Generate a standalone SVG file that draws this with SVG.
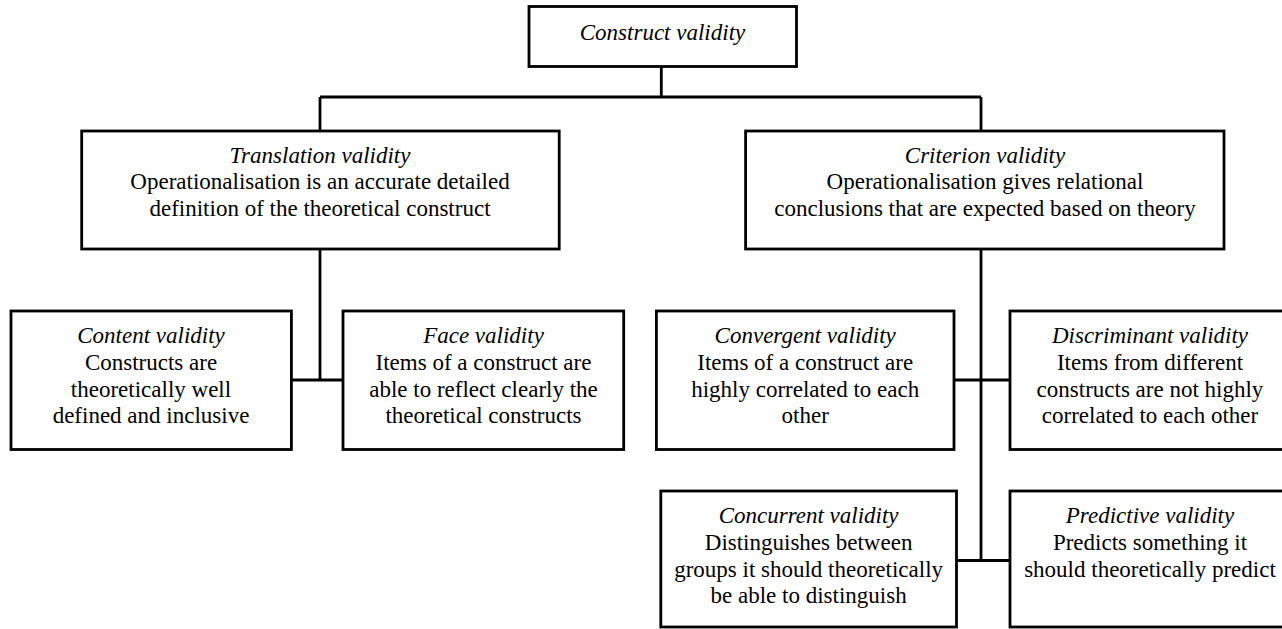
<svg xmlns="http://www.w3.org/2000/svg" width="1282" height="629" viewBox="0 0 1282 629">
<style>
.box{fill:#fff;stroke:#000;stroke-width:2.8}
.ln{fill:none;stroke:#000;stroke-width:2.8}
text{font-family:'Liberation Serif',serif;font-size:23px;fill:#000;text-anchor:middle}
.t{font-style:italic}
</style>
<rect width="1282" height="629" fill="#fff"/>
<g id="connectors">
<path class="ln" d="M661.3,66.7 V97 M320,97 H981 M320,97 V131 M981,97 V131"/>
<path class="ln" d="M320,249 V380 M291,380 H343"/>
<path class="ln" d="M981,249 V560.5 M954,380 H1010 M952,560.5 H1010"/>
</g>
<g id="construct">
<rect class="box" x="529" y="6.5" width="267.5" height="60"/>
<text class="t" x="662.5" y="40">Construct validity</text>
</g>
<g id="translation">
<rect class="box" x="81.7" y="131" width="477.5" height="118"/>
<text class="t" x="320" y="162.5">Translation validity</text>
<text x="320" y="189.2">Operationalisation is an accurate detailed</text>
<text x="320" y="216">definition of the theoretical construct</text>
</g>
<g id="criterion">
<rect class="box" x="745.6" y="131" width="478.4" height="118"/>
<text class="t" x="985" y="162.5">Criterion validity</text>
<text x="985" y="189.2">Operationalisation gives relational</text>
<text x="985" y="216">conclusions that are expected based on theory</text>
</g>
<g id="content">
<rect class="box" x="11" y="311" width="280.4" height="138.5"/>
<text class="t" x="151" y="343.3">Content validity</text>
<text x="151" y="370">Constructs are</text>
<text x="151" y="396.7">theoretically well</text>
<text x="151" y="423.3">defined and inclusive</text>
</g>
<g id="face">
<rect class="box" x="343" y="311" width="280.7" height="138.5"/>
<text class="t" x="483.5" y="343.3">Face validity</text>
<text x="483.5" y="370">Items of a construct are</text>
<text x="483.5" y="396.7">able to reflect clearly the</text>
<text x="483.5" y="423.3">theoretical constructs</text>
</g>
<g id="convergent">
<rect class="box" x="656.4" y="311" width="297.6" height="138.5"/>
<text class="t" x="805.2" y="343.3">Convergent validity</text>
<text x="805.2" y="370">Items of a construct are</text>
<text x="805.2" y="396.7">highly correlated to each</text>
<text x="805.2" y="423.3">other</text>
</g>
<g id="discriminant">
<rect class="box" x="1010" y="311" width="282" height="138.5"/>
<text class="t" x="1150" y="343.3">Discriminant validity</text>
<text x="1150" y="370">Items from different</text>
<text x="1150" y="396.7">constructs are not highly</text>
<text x="1150" y="423.3">correlated to each other</text>
</g>
<g id="concurrent">
<rect class="box" x="660.8" y="491" width="295.7" height="136"/>
<text class="t" x="808.6" y="523.3">Concurrent validity</text>
<text x="808.6" y="550">Distinguishes between</text>
<text x="808.6" y="576.7">groups it should theoretically</text>
<text x="808.6" y="603.3">be able to distinguish</text>
</g>
<g id="predictive">
<rect class="box" x="1010" y="491" width="282" height="136"/>
<text class="t" x="1150" y="523.3">Predictive validity</text>
<text x="1150" y="550">Predicts something it</text>
<text x="1150" y="576.7">should theoretically predict</text>
</g>
</svg>
